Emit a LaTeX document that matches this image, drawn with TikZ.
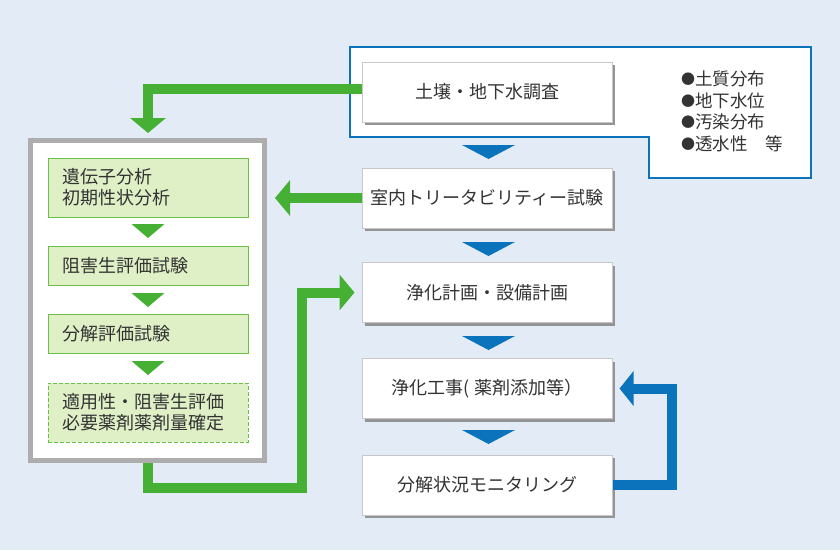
\documentclass[tikz,border=0pt]{standalone}
\usepackage{fontspec}
\setmainfont{Noto Sans CJK JP}
\usetikzlibrary{arrows.meta,shadows,calc}
\definecolor{bg}{HTML}{E3ECF6}
\definecolor{gbar}{HTML}{46B035}
\definecolor{gfill}{HTML}{DFEFC6}
\definecolor{gline}{HTML}{6CBE4B}
\definecolor{bblue}{HTML}{0A73BB}
\definecolor{framegray}{HTML}{ADADAD}
\definecolor{txt}{HTML}{333333}
\newcommand{\blt}{{\fontsize{14}{14}\selectfont\raisebox{1.2pt}{●}}}
\begin{document}
\begin{tikzpicture}[x=1pt,y=-1pt,
  every node/.style={font=\fontsize{18}{21}\selectfont, text=txt},
  mainbox/.style={draw=black!22, line width=1pt, fill=white, minimum width=250pt, minimum height=60pt, inner sep=0pt,
    drop shadow={shadow xshift=3pt, shadow yshift=-3pt, fill=black!42, opacity=1}},
  gbox/.style={draw=gline, line width=1pt, fill=gfill, minimum width=200pt, inner xsep=14pt, inner ysep=0pt, text width=172pt, align=left},
  garrow/.style={draw=gbar, line width=10pt, line join=miter, -{Triangle[width=35pt,length=15pt]}},
  barrow/.style={draw=bblue, line width=10pt, line join=miter, -{Triangle[width=34pt,length=14pt]}},
  gtri/.style={fill=gbar},
  btri/.style={fill=bblue}
]
\useasboundingbox (0,0) rectangle (840,550);
\fill[bg] (0,0) rectangle (840,550);

% blue outline area
\draw[bblue, line width=1.3pt, fill=white] (350,47) -- (811,47) -- (811,178) -- (649,178) -- (649,137) -- (350,137) -- cycle;

% main boxes
\node[mainbox] (b1) at (487,92) {土壌・地下水調査};
\node[mainbox] (b2) at (487,198) {室内トリータビリティー試験};
\node[mainbox] (b3) at (487,292.5) {浄化計画・設備計画};
\node[mainbox] (b4) at (487,388.5) {浄化工事( 薬剤添加等）};
\node[mainbox] (b5) at (487,485) {分解状況モニタリング};

\node[anchor=north west, align=left, inner sep=0pt, font=\fontsize{17.5}{21.5}\selectfont] (list) at (681,71) {\blt 土質分布\\\blt 地下水位\\\blt 汚染分布\\\blt 透水性　等};

% blue triangles
\fill[btri] (462,145) -- (515,145) -- (488.5,159) -- cycle;
\fill[btri] (462,242) -- (515,242) -- (488.5,256) -- cycle;
\fill[btri] (462,336) -- (515,336) -- (488.5,350) -- cycle;
\fill[btri] (462,430) -- (515,430) -- (488.5,444) -- cycle;

% left frame
\node[draw=framegray, line width=5pt, fill=white, minimum width=234pt, minimum height=320pt, inner sep=0pt] (frame) at (147.5,300.5) {};

\node[gbox, minimum height=59pt] (g1) at (148,187.5) {遺伝子分析\\初期性状分析};
\node[gbox, minimum height=39pt] (g2) at (148,265.5) {阻害生評価試験};
\node[gbox, minimum height=39pt] (g3) at (148,333.5) {分解評価試験};
\node[gbox, minimum height=59pt, dash pattern=on 4pt off 2pt] (g4) at (148,412.5) {適用性・阻害生評価\\必要薬剤薬剤量確定};

% green triangles
\fill[gtri] (131.5,224) -- (164.5,224) -- (148,238) -- cycle;
\fill[gtri] (131.5,293) -- (164.5,293) -- (148,307) -- cycle;
\fill[gtri] (131.5,361) -- (164.5,361) -- (148,375) -- cycle;

% connectors
\coordinate (t1) at ($(frame.north)+(0.5,-5)$);
\coordinate (t2) at ([xshift=8pt]frame.east);
\coordinate (c3) at (302,488);
\coordinate (t3) at ([xshift=-7pt]b3.west);
\coordinate (c4) at (672,485);
\coordinate (t4) at ([xshift=7pt]b4.east);

\draw[garrow] ([yshift=3pt]b1.west) -| (t1);
\draw[garrow] (b2.west) -- (b2.west -| t2);
\draw[garrow] (frame.south -| t1) |- (c3) |- (t3);
\draw[barrow] (b5.east) -| (c4) |- (t4);
\end{tikzpicture}
\end{document}
